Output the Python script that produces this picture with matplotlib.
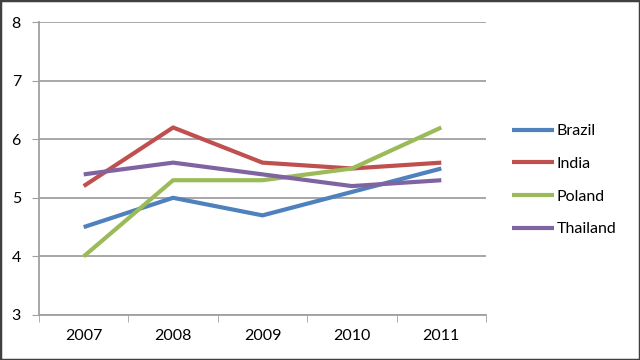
import matplotlib
matplotlib.use("Agg")
from matplotlib import pyplot as plt
from matplotlib.patches import Rectangle
import numpy as np

years = ["2007", "2008", "2009", "2010", "2011"]
brazil = [4.5, 5.0, 4.7, 5.1, 5.5]
india = [5.2, 6.2, 5.6, 5.5, 5.6]
poland = [4.0, 5.3, 5.3, 5.5, 6.2]
thailand = [5.4, 5.6, 5.4, 5.2, 5.3]

series = [("Brazil", brazil, "#4F81BD"),
          ("India", india, "#C0504D"),
          ("Poland", poland, "#9BBB59"),
          ("Thailand", thailand, "#8064A2")]

plt.rcParams['font.family'] = ['Lato', 'DejaVu Sans']

fig = plt.figure(figsize=(6.4, 3.6), dpi=100)
ax = fig.add_axes([39/640, 45/360, 447/640, 293/360])

x = np.arange(len(years))
for name, vals, col in series:
    ax.plot(x, vals, color=col, lw=3, label=name, solid_capstyle='butt')

ax.set_xlim(-0.5, len(years) - 0.5)
ax.set_ylim(3, 8)
ax.set_yticks(range(3, 9))
ax.set_xticks(x)
ax.set_xticklabels(years)
ax.set_xticks(np.arange(-0.5, len(years), 1), minor=True)
ax.tick_params(axis='x', which='major', length=0, pad=10, labelsize=11.5)
ax.tick_params(axis='x', which='minor', length=5, color='#A0A0A0', direction='out')
ax.tick_params(axis='y', length=5, color='#A0A0A0', pad=8, labelsize=11.5)
ax.grid(axis='y', color='#A0A0A0', lw=1.3)
ax.set_axisbelow(True)
for s in ['top', 'right']:
    ax.spines[s].set_visible(False)
for s in ['left', 'bottom']:
    ax.spines[s].set_color('#A0A0A0')
    ax.spines[s].set_linewidth(1.3)

leg = ax.legend(loc='center left', bbox_to_anchor=(1.027, 0.46), frameon=False,
                fontsize=11.5, handlelength=2.6, handletextpad=0.15, labelspacing=1.15)

fig.patches.append(Rectangle((0, 0), 1, 1, transform=fig.transFigure, fill=False,
                             edgecolor='#404040', lw=2.5))

fig.savefig("out.png", dpi=100)
